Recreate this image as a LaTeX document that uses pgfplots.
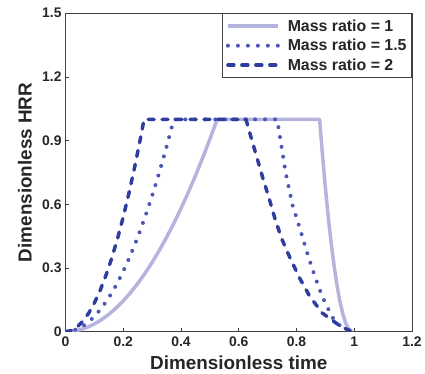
\documentclass[border=0pt]{standalone}
\usepackage{pgfplots}
\pgfplotsset{compat=1.18}
\usepackage{fontspec}
\setmainfont{Liberation Sans}
\definecolor{cSolid}{HTML}{B4B4DE}
\definecolor{cDot}{HTML}{4C56B8}
\definecolor{cDash}{HTML}{2F3E9E}
\definecolor{axgray}{HTML}{404040}
\begin{document}
\begin{tikzpicture}
\begin{axis}[
  name=ax,
  scale only axis,
  width=347.6bp, height=319.4bp,
  xmin=0, xmax=1.2, ymin=0, ymax=1.5,
  xtick={0,0.2,0.4,0.6,0.8,1,1.2},
  ytick={0,0.3,0.6,0.9,1.2,1.5},
  xticklabels={0,0.2,0.4,0.6,0.8,1,1.2},
  yticklabels={0,0.3,0.6,0.9,1.2,1.5},
  tick pos=left,
  tick align=inside,
  major tick length=4bp,
  axis line style={axgray, line width=1bp},
  tick style={axgray, line width=0.8bp},
  ticklabel style={font=\fontsize{14}{16}\selectfont\bfseries, text=black!85},
  xticklabel style={yshift=-2bp},
  yticklabel style={xshift=-0.5bp},
  xlabel={Dimensionless time},
  ylabel={Dimensionless HRR},
  label style={font=\fontsize{19}{21}\selectfont\bfseries, text=black!85},
  xlabel style={at={(axis description cs:0.5,-0.119)}, anchor=base},
  ylabel style={at={(axis description cs:-0.098,0.5)}, anchor=base, rotate=0},
  legend style={at={(rel axis cs:1,1)}, anchor=north east,
    draw=axgray, line width=1bp,
    font=\fontsize{16}{18}\selectfont\bfseries, text=black!85,
    inner xsep=3bp, inner ysep=4bp, row sep=2.5bp,
    /tikz/every odd column/.append style={column sep=6bp}},
  legend cell align=left,
  legend image code/.code={\draw[#1] (0bp,0bp) -- (50bp,0bp);},
]
\addplot[cSolid, line width=3.5bp, line join=round] coordinates {
(0,0) (0.025,0.00227) (0.05,0.00907) (0.075,0.0204) (0.1,0.0363) (0.125,0.0567)
(0.15,0.0816) (0.175,0.1111) (0.2,0.1451) (0.225,0.1837) (0.25,0.2268) (0.275,0.2744)
(0.3,0.3265) (0.325,0.3832) (0.35,0.4444) (0.375,0.5102) (0.4,0.5805) (0.425,0.6553)
(0.45,0.7347) (0.475,0.8186) (0.5,0.9070) (0.525,1) (0.88,1)
(0.89,0.8308) (0.9,0.6774) (0.91,0.5395) (0.92,0.4173) (0.93,0.3108) (0.94,0.22)
(0.95,0.1448) (0.96,0.0853) (0.97,0.0414) (0.98,0.0132) (0.993,0)
};
\addlegendentry{Mass ratio = 1}
\addplot[cDot, line width=4bp, line cap=round, dash pattern=on 0bp off 10bp] coordinates {
(0,0) (0.025,0.00444) (0.05,0.0178) (0.075,0.04) (0.1,0.0711) (0.125,0.1111)
(0.15,0.16) (0.175,0.2178) (0.2,0.2844) (0.225,0.36) (0.25,0.4444) (0.275,0.5378)
(0.3,0.64) (0.325,0.7511) (0.35,0.8711) (0.375,1) (0.733,1)
(0.746,0.889) (0.763,0.745) (0.786,0.597) (0.809,0.498) (0.840,0.357)
(0.863,0.263) (0.889,0.166) (0.918,0.083) (0.935,0.044) (0.964,0.016) (0.995,0)
};
\addlegendentry{Mass ratio = 1.5}
\addplot[cDash, line width=3.5bp, line cap=round, dash pattern=on 6bp off 8bp] coordinates {
(0,0) (0.02,0.0054) (0.04,0.0216) (0.06,0.0487) (0.08,0.0865) (0.1,0.1352)
(0.12,0.1946) (0.14,0.2649) (0.16,0.346) (0.18,0.4379) (0.2,0.5406) (0.22,0.6542)
(0.24,0.7785) (0.26,0.9137) (0.272,1) (0.625,1)
(0.642,0.918) (0.682,0.730) (0.705,0.628) (0.725,0.534) (0.748,0.44) (0.777,0.349)
(0.811,0.252) (0.846,0.166) (0.889,0.088) (0.953,0.025) (0.984,0.005) (0.99,0)
};
\addlegendentry{Mass ratio = 2}
\end{axis}
\path ([shift={(-65.7bp,-42.3bp)}]ax.south west) rectangle ([shift={(11.7bp,13.3bp)}]ax.north east);
\end{tikzpicture}
\end{document}
